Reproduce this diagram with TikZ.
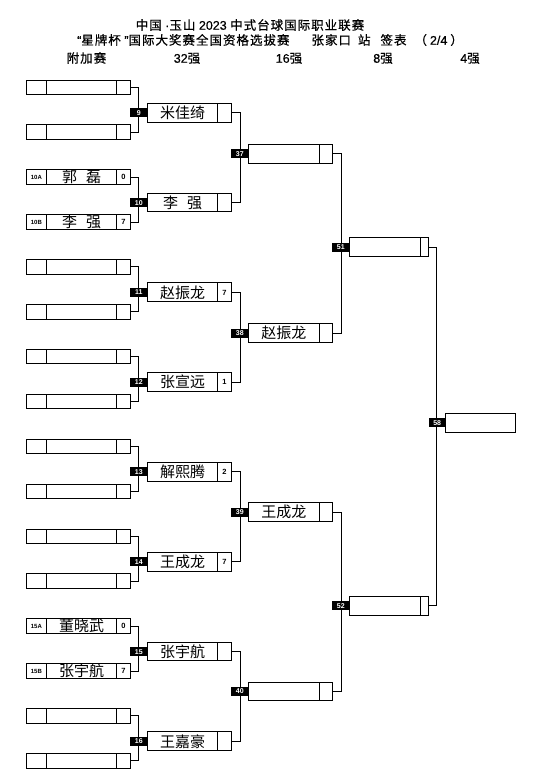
\documentclass[tikz,border=0pt]{standalone}
\usepackage{fontspec}
\setmainfont{Liberation Sans}
\newfontfamily\lat{Liberation Sans}
\newfontfamily\lathd[FakeBold=0.6]{Liberation Sans}
\newfontfamily\cjk{Noto Sans CJK SC}
\newfontfamily\cjkhd[LetterSpace=8,FakeBold=0.6]{Noto Sans CJK SC}
\tikzset{
  cell/.style={draw,line width=1pt,inner sep=0pt,outer sep=0pt,anchor=west},
  seedbox/.style={cell,text height=4.3pt,text depth=0pt,font=\lat\bfseries\fontsize{6}{6}\selectfont},
  namebox/.style={cell,text height=12.5pt,text depth=1.1pt,font=\cjk\fontsize{15}{15}\selectfont},
  scorebox/.style={cell,text height=5.4pt,text depth=0pt,font=\lat\bfseries\fontsize{7.5}{7.5}\selectfont},
  low/.style={minimum height=14.5pt},
  high/.style={minimum height=18.8pt},
  tag/.style={fill=black,text=white,inner sep=0pt,outer sep=0pt,minimum width=17pt,minimum height=9pt,
    text height=5pt,text depth=0pt,anchor=east,font=\lat\bfseries\fontsize{7}{7}\selectfont},
  wire/.style={line width=0.9pt},
  hdr/.style={inner sep=0pt,text height=10.9pt,text depth=1.4pt,font=\cjkhd\fontsize{12.5}{12.5}\selectfont}
}
\begin{document}
\begin{tikzpicture}[x=1pt,y=-1pt]
    \useasboundingbox (0,0) rectangle (545,784);
    \node[hdr] (hd1) at (250,25) {中国{\lathd\ ·}玉山{\lathd\ 2023\ }中式台球国际职业联赛};
    \node[hdr,anchor=west] (hd2) at (77,40) {{\lathd “}星牌杯{\lathd\ ”}国际大奖赛全国资格选拔赛\hspace{22pt}张家口\hspace{7pt}站\hspace{10pt}签表\hspace{8pt}（\hspace{3pt}{\lathd 2/4}\hspace{3pt}）};
    \foreach \nm/\x in {附加赛/86.5,{{\lathd 32}强}/187,{{\lathd 16}强}/289,{{\lathd 8}强}/383,{{\lathd 4}强}/470}{
      \node[hdr] (h\x) at (\x,58) {\nm};
    }
    \foreach \i/\sed/\nam/\scr in {0/{}/{}/{},1/{}/{}/{},2/10A/{郭\hspace{9pt}磊}/0,3/10B/{李\hspace{9pt}强}/7,
        4/{}/{}/{},5/{}/{}/{},6/{}/{}/{},7/{}/{}/{},8/{}/{}/{},9/{}/{}/{},10/{}/{}/{},11/{}/{}/{},
        12/15A/董晓武/0,13/15B/张宇航/7,14/{}/{}/{},15/{}/{}/{}}{
      \node[seedbox,low,minimum width=20.7pt] (l\i-a) at (26,{87.3+44.9*\i}) {\sed};
      \node[namebox,low,minimum width=70pt] (l\i-n) at (l\i-a.east) {\nam};
      \node[scorebox,low,minimum width=13.3pt] (l\i-s) at (l\i-n.east) {\scr};
    }
    \foreach \j/\nam/\scr in {0/米佳绮/{},1/{李\hspace{9pt}强}/{},2/赵振龙/7,3/张宣远/1,
        4/解熙腾/2,5/王成龙/7,6/张宇航/{},7/王嘉豪/{}}{
      \node[namebox,high,minimum width=70.4pt] (r\j-n) at (147.3,{112.7+89.8*\j}) {\nam};
      \node[scorebox,high,minimum width=13.3pt] (r\j-s) at (r\j-n.east) {\scr};
    }
    \foreach \k/\nam in {0/{},1/赵振龙,2/王成龙,3/{}}{
      \node[namebox,high,minimum width=71pt] (s\k-n) at (248.3,{153.8+179.2*\k}) {\nam};
      \node[scorebox,high,minimum width=13pt] (s\k-s) at (s\k-n.east) {};
    }
    \foreach \m in {0,1}{
      \node[namebox,high,minimum width=70.7pt] (q\m-n) at (349.3,{247.2+358.5*\m}) {};
      \node[scorebox,high,minimum width=8.7pt] (q\m-s) at (q\m-n.east) {};
    }
    \node[namebox,high,minimum width=70pt] (fin) at (445.7,422.8) {};
    \foreach \a/\b in {0/1,2/3,4/5,6/7,8/9,10/11,12/13,14/15}{
      \draw[wire] (l\a-s.east) -- ++(8.3,0) |- (l\b-s.east);
    }
    \foreach \a/\b in {0/1,2/3,4/5,6/7}{
      \draw[wire] (r\a-s.east) -- ++(9,0) |- (r\b-s.east);
    }
    \draw[wire] (s0-s.east) -- ++(9.4,0) |- (s1-s.east);
    \draw[wire] (s2-s.east) -- ++(9.4,0) |- (s3-s.east);
    \draw[wire] (q0-s.east) -- ++(8,0) |- (q1-s.east);
    \foreach \nd/\nr in {r0-n/9,r1-n/10,r2-n/11,r3-n/12,r4-n/13,r5-n/14,r6-n/15,r7-n/16,
        s0-n/37,s1-n/38,s2-n/39,s3-n/40,q0-n/51,q1-n/52,fin/58}{
      \node[tag] (t\nr) at (\nd.west) {\nr};
    }
\end{tikzpicture}
\end{document}
